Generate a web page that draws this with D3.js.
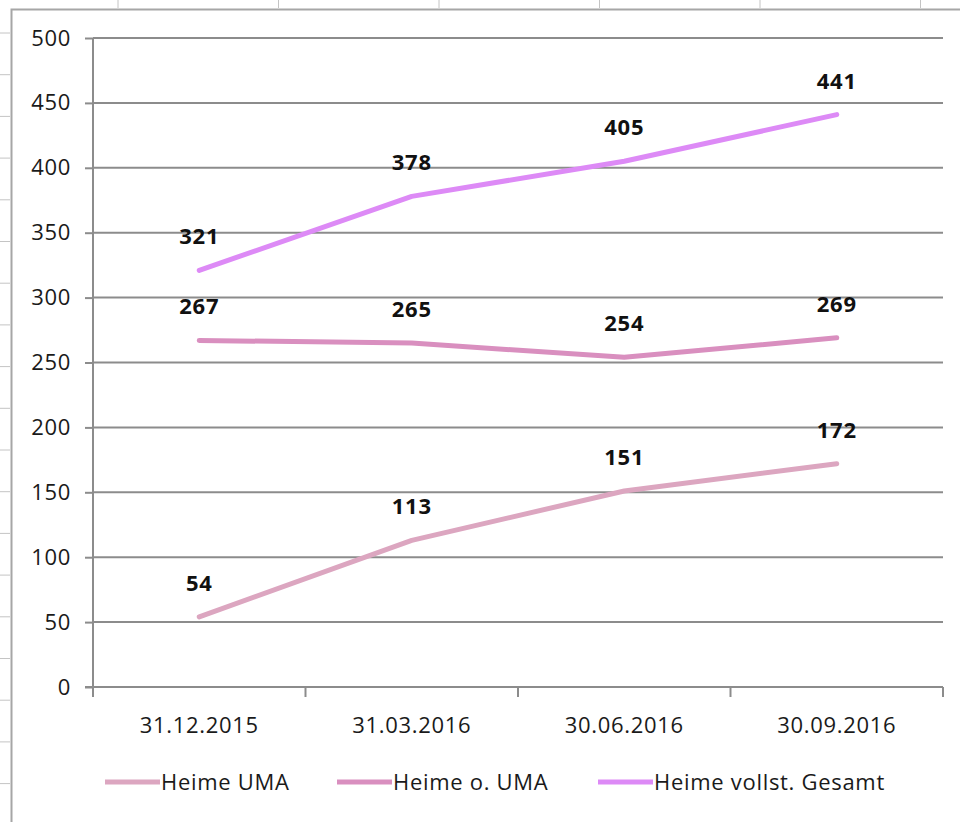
<!DOCTYPE html>
<html>
<head>
<meta charset="utf-8">
<script src="https://cdn.jsdelivr.net/npm/d3@7"></script>
<style>
  html, body { margin: 0; padding: 0; background: #fff; }
  svg { display: block; }
  text { font-family: "Open Sans", "Liberation Sans", sans-serif; letter-spacing: 0.7px; }
</style>
</head>
<body>
<svg id="chart" width="960" height="822"></svg>
<script>
// Stichtage
const categories = ["31.12.2015", "31.03.2016", "30.06.2016", "30.09.2016"];
// Serien
const seriesNames = ["Heime UMA", "Heime o. UMA", "Heime vollst. Gesamt"];
const heimeUMA = [54, 113, 151, 172];
const heimeOhneUMA = [267, 265, 254, 269];
const heimeGesamt = [321, 378, 405, 441];
const seriesColors = ["#dca6c0", "#d98fbf", "#dd8af6"];
const yTicks = [0, 50, 100, 150, 200, 250, 300, 350, 400, 450, 500];

const series = [heimeUMA, heimeOhneUMA, heimeGesamt].map((values, i) => ({
  name: seriesNames[i], values, color: seriesColors[i]
}));

const svg = d3.select("#chart");
const margin = { left: 93, right: 17, top: 38, bottom: 135 };
const W = 960, H = 822;
const fontSize = "22px";

const x = d3.scaleBand().domain(categories).range([margin.left, W - margin.right]);
const y = d3.scaleLinear().domain([0, 500]).range([H - margin.bottom, margin.top]);

// Rahmen der Tabellenzellen im Hintergrund
const frame = svg.append("g").attr("stroke", "#c4c4c4").attr("stroke-width", 1);
d3.range(118, 960, 160.5).forEach(px => {
  frame.append("line").attr("x1", px).attr("x2", px).attr("y1", 0).attr("y2", 8);
});
d3.range(33, 822, 41.7).forEach(py => {
  frame.append("line").attr("x1", 0).attr("x2", 10).attr("y1", py).attr("y2", py);
});
svg.append("path")
  .attr("d", "M11.5,822 V9.5 H960")
  .attr("fill", "none")
  .attr("stroke", "#a6a6a6")
  .attr("stroke-width", 2);

// Gitterlinien und y-Achse
const yAxis = d3.axisLeft(y).tickValues(yTicks).tickSize(8).tickPadding(14);
const gy = svg.append("g")
  .attr("transform", `translate(${margin.left},0)`)
  .call(yAxis);
gy.select(".domain").attr("stroke", "#8c8c8c").attr("stroke-width", 2)
  .attr("d", `M0,${y(500)}V${y(0)}`);
gy.selectAll(".tick line").attr("stroke", "#8c8c8c").attr("stroke-width", 2);
gy.selectAll(".tick text")
  .attr("fill", "#1a1a1a")
  .style("font-size", fontSize);

svg.append("g")
  .selectAll("line")
  .data(yTicks.filter(d => d > 0))
  .join("line")
  .attr("x1", margin.left).attr("x2", W - margin.right)
  .attr("y1", d => y(d)).attr("y2", d => y(d))
  .attr("stroke", "#8c8c8c").attr("stroke-width", 2);

// x-Achse mit Trennstrichen zwischen den Kategorien
const gx = svg.append("g").attr("transform", `translate(0,${y(0)})`);
gx.append("line")
  .attr("x1", margin.left - 8).attr("x2", W - margin.right)
  .attr("y1", 0).attr("y2", 0)
  .attr("stroke", "#8c8c8c").attr("stroke-width", 2);
const bounds = categories.map(c => x(c)).concat([x.range()[1]]);
gx.selectAll(".sep")
  .data(bounds)
  .join("line")
  .attr("class", "sep")
  .attr("x1", d => d).attr("x2", d => d)
  .attr("y1", 0).attr("y2", 10)
  .attr("stroke", "#8c8c8c").attr("stroke-width", 2);
gx.selectAll(".cat")
  .data(categories)
  .join("text")
  .attr("class", "cat")
  .attr("x", d => x(d) + x.bandwidth() / 2)
  .attr("y", 46)
  .attr("text-anchor", "middle")
  .attr("fill", "#1a1a1a")
  .style("font-size", fontSize)
  .text(d => d);

// Linien
const line = d3.line()
  .x((d, i) => x(categories[i]) + x.bandwidth() / 2)
  .y(d => y(d));

svg.append("g")
  .selectAll("path")
  .data(series)
  .join("path")
  .attr("d", s => line(s.values))
  .attr("fill", "none")
  .attr("stroke", s => s.color)
  .attr("stroke-width", 5)
  .attr("stroke-linecap", "round")
  .attr("stroke-linejoin", "round");

// Datenbeschriftungen
series.forEach(s => {
  svg.append("g")
    .selectAll("text")
    .data(s.values)
    .join("text")
    .attr("x", (d, i) => x(categories[i]) + x.bandwidth() / 2)
    .attr("y", d => y(d) - 26)
    .attr("text-anchor", "middle")
    .attr("fill", "#111")
    .style("font-size", fontSize)
    .style("font-weight", "bold")
    .text(d => d);
});

// Legende
const legendItems = [
  { x: 105, textX: 161 },
  { x: 337, textX: 393 },
  { x: 598, textX: 654 }
];
const lg = svg.append("g");
series.forEach((s, i) => {
  const it = legendItems[i];
  lg.append("line")
    .attr("x1", it.x).attr("x2", it.x + 55)
    .attr("y1", 782).attr("y2", 782)
    .attr("stroke", s.color).attr("stroke-width", 5);
  lg.append("text")
    .attr("x", it.textX)
    .attr("y", 790)
    .attr("fill", "#1a1a1a")
    .style("font-size", fontSize)
    .text(s.name);
});
</script>
</body>
</html>
